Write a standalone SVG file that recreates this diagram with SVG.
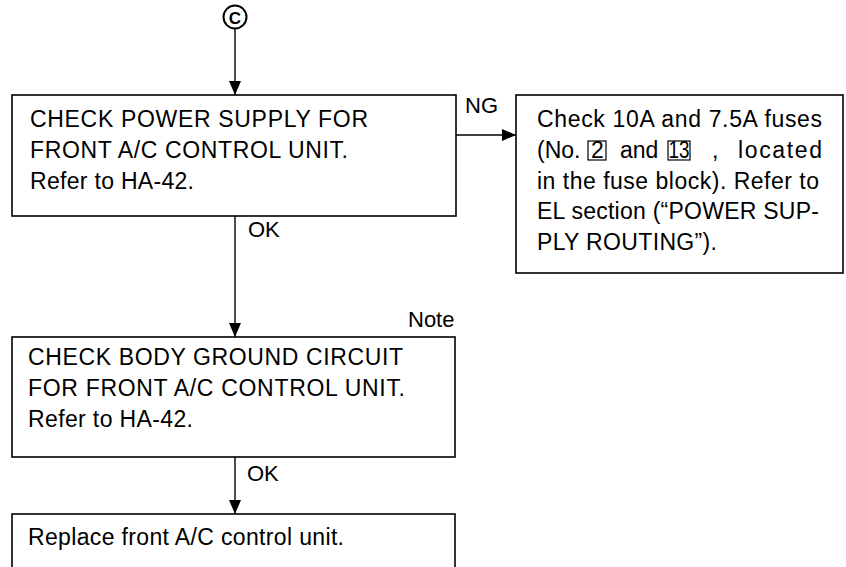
<svg xmlns="http://www.w3.org/2000/svg" width="846" height="567" viewBox="0 0 846 567">
<defs>
<style>
.box{fill:#fff;stroke:#000;stroke-width:1.6}
.t{font-family:"Liberation Sans",Arial,sans-serif;font-size:23px;fill:#000}
.l{font-family:"Liberation Sans",Arial,sans-serif;font-size:22px;fill:#000}
.ln{stroke:#000;stroke-width:1.4;fill:none}
.sq{fill:none;stroke:#000;stroke-width:1.2}
</style>
<marker id="av" viewBox="0 0 14 12" refX="14" refY="6" markerWidth="14" markerHeight="12" markerUnits="userSpaceOnUse" orient="auto">
<path d="M0,0 L14,6 L0,12 Z" fill="#000"/>
</marker>
</defs>
<g id="connectors">
<line class="ln" x1="235" y1="29" x2="235" y2="95" marker-end="url(#av)"/>
<line class="ln" x1="456" y1="135" x2="516" y2="135" marker-end="url(#av)"/>
<line class="ln" x1="235" y1="216" x2="235" y2="337" marker-end="url(#av)"/>
<line class="ln" x1="235" y1="457" x2="235" y2="514" marker-end="url(#av)"/>
<text class="l" x="465" y="113">NG</text>
<text class="l" x="248" y="237">OK</text>
<text class="l" x="408" y="327">Note</text>
<text class="l" x="247" y="481">OK</text>
</g>
<g id="start">
<circle cx="235" cy="17" r="11.5" fill="#fff" stroke="#000" stroke-width="2"/>
<text x="235" y="23.5" text-anchor="middle" style="font-family:'Liberation Sans',Arial,sans-serif;font-size:17px;font-weight:bold">C</text>
</g>
<g id="check-power">
<rect class="box" x="12" y="95" width="444" height="121"/>
<text class="t" x="30" y="127" textLength="338" lengthAdjust="spacing">CHECK POWER SUPPLY FOR</text>
<text class="t" x="30" y="158" textLength="318" lengthAdjust="spacing">FRONT A/C CONTROL UNIT.</text>
<text class="t" x="30" y="189" textLength="164" lengthAdjust="spacing">Refer to HA-42.</text>
</g>
<g id="check-fuses">
<rect class="box" x="516" y="95" width="327" height="178"/>
<text class="t" x="537" y="127" textLength="285" lengthAdjust="spacing">Check 10A and 7.5A fuses</text>
<text class="t" x="537" y="158">(No.</text>
<rect class="sq" x="588" y="141" width="18" height="19"/>
<text class="t" x="591" y="158">2</text>
<text class="t" x="620" y="158">and</text>
<rect class="sq" x="668" y="141" width="22" height="19"/>
<text class="t" x="668.5" y="158" textLength="21" lengthAdjust="spacingAndGlyphs">13</text>
<text class="t" x="712" y="158">,</text>
<text class="t" x="738" y="158" textLength="84" lengthAdjust="spacing">located</text>
<text class="t" x="537" y="189" textLength="282" lengthAdjust="spacing">in the fuse block). Refer to</text>
<text class="t" x="537" y="219" textLength="282" lengthAdjust="spacing">EL section (“POWER SUP-</text>
<text class="t" x="537" y="250" textLength="180" lengthAdjust="spacing">PLY ROUTING”).</text>
</g>
<g id="check-ground">
<rect class="box" x="12" y="337" width="443" height="120"/>
<text class="t" x="28" y="365" textLength="375" lengthAdjust="spacing">CHECK BODY GROUND CIRCUIT</text>
<text class="t" x="28" y="396" textLength="377" lengthAdjust="spacing">FOR FRONT A/C CONTROL UNIT.</text>
<text class="t" x="28" y="427" textLength="165" lengthAdjust="spacing">Refer to HA-42.</text>
</g>
<g id="replace">
<rect class="box" x="12" y="514" width="443" height="70"/>
<text class="t" x="28" y="545" textLength="316" lengthAdjust="spacing">Replace front A/C control unit.</text>
</g>
</svg>
